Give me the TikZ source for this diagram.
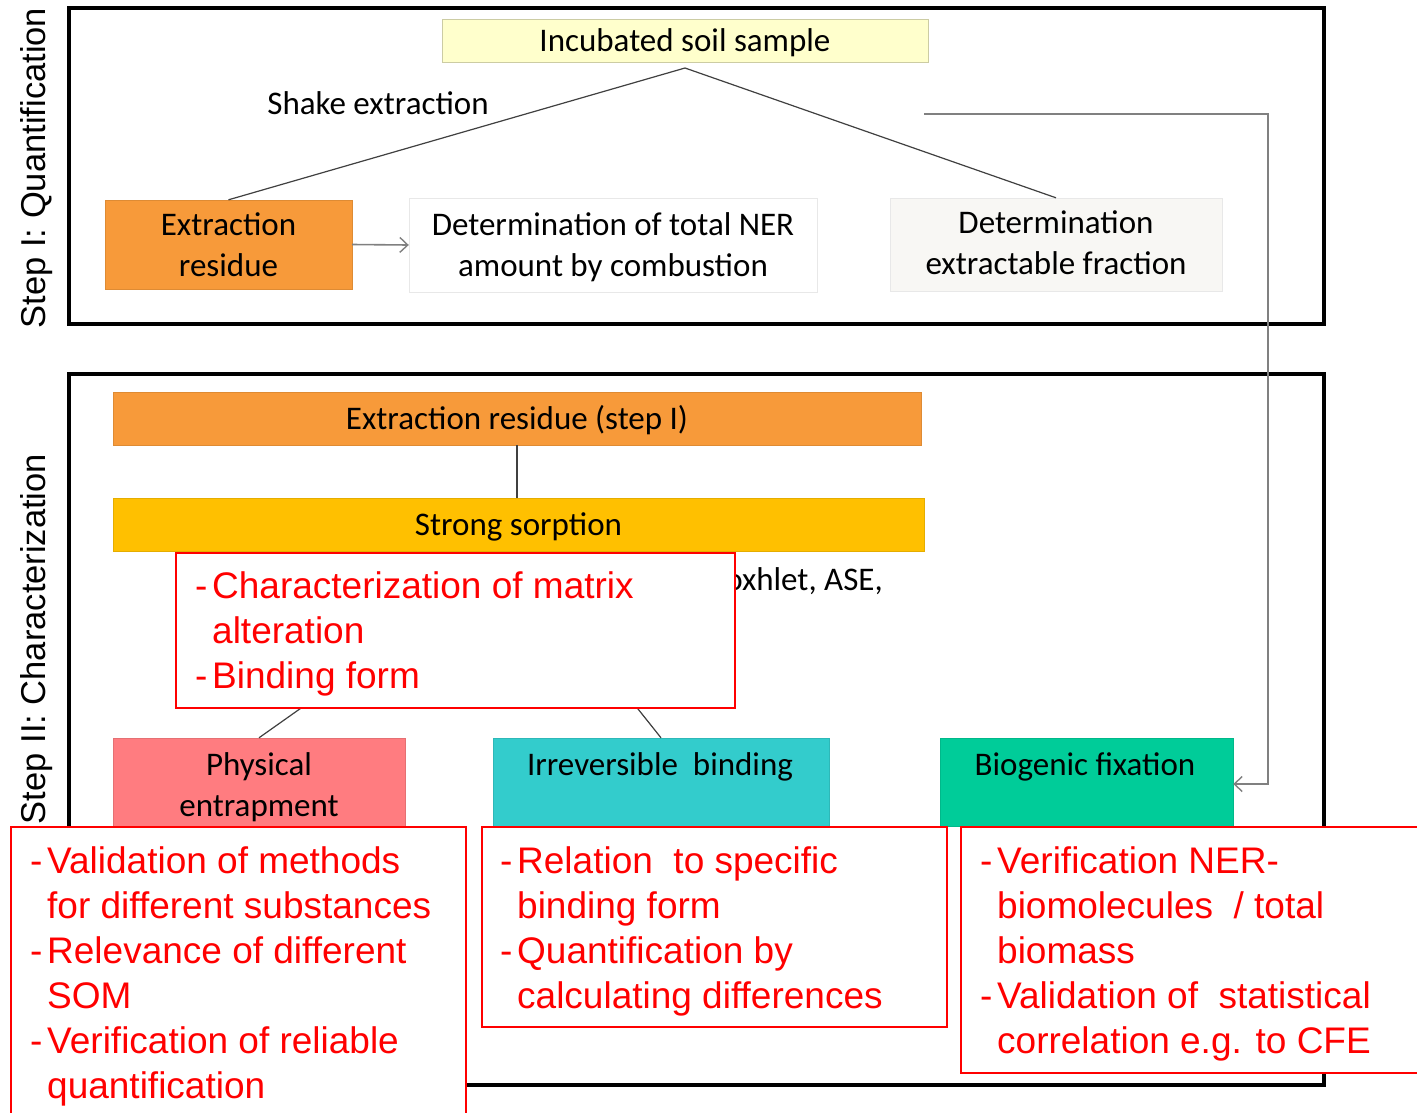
\documentclass[tikz,border=0pt]{standalone}
\usepackage{fontspec}
\usetikzlibrary{arrows.meta}
\newfontfamily\carl{Carlito}
\newfontfamily\arl{Liberation Sans}
\definecolor{incub}{HTML}{FFFFCC}
\definecolor{orng}{HTML}{F79A3A}
\definecolor{gold}{HTML}{FFC000}
\definecolor{salmon}{HTML}{FF7C80}
\definecolor{teal}{HTML}{33CCCC}
\definecolor{mint}{HTML}{00CC99}
\definecolor{offwhite}{HTML}{F8F7F4}
\definecolor{lightedge}{HTML}{E8E8E8}
\definecolor{treeline}{HTML}{404040}
\definecolor{connline}{HTML}{808080}
\newcommand\rdash{\makebox[17pt][l]{-}}
\newcommand\rind{\hspace*{17pt}}
\begin{document}
\begin{tikzpicture}[x=1pt,y=-1pt,
  frame/.style={draw=black, line width=3.5pt},
  lbl/.style={font=\carl\fontsize{33}{41}\selectfont, align=center, inner sep=0pt, text=black},
  boxc/.style={inner sep=0pt, draw=#1!90!black, fill=#1, line width=0.4pt},
  redbox/.style={draw=red, line width=1.5pt, fill=white, inner sep=0pt, anchor=north west},
  redtxt/.style={font=\arl\fontsize{37}{45}\selectfont, text=red, align=left, inner sep=0pt, anchor=north west},
  steplbl/.style={font=\arl\fontsize{34.5}{40}\selectfont, rotate=90, inner sep=0pt},
  tree/.style={draw=treeline, line width=1.2pt},
  conn/.style={draw=connline, line width=1.6pt},
  tip/.style={-{Straight Barb[length=8pt,width=15pt,line width=1.4pt]}}
]
\useasboundingbox (0,0) rectangle (1417,1112);
\clip (0,0) rectangle (1417,1112);
\fill[white] (0,0) rectangle (1417,1112);

% frames
\draw[frame] (69,8) rectangle (1324,324);
\draw[frame] (69,374) rectangle (1324,1085);

% side labels
\node[steplbl] (s1) at (37,168) {Step I: Quantification};
\node[steplbl] (s2) at (37,639) {Step II: Characterization};

% Step I
\node[boxc=incub, draw=incub!80!black, minimum width=486pt, minimum height=43pt] (incub) at (685,40.5) {};
\node[lbl] (incubt) at (685,42.5) {Incubated soil sample};
\coordinate (apex) at (685,68);
\node[lbl] (shake) at (378,103) {Shake extraction};
\node[boxc=orng, minimum width=247pt, minimum height=89pt] (exres) at (228.5,244.5) {};
\node[lbl] (exrest) at (228.5,244.5) {Extraction\\residue};
\node[boxc=white, draw=lightedge, minimum width=408pt, minimum height=94pt] (ner) at (613,245) {};
\node[lbl] (nert) at (613,247) {Determination of total NER\\amount by combustion};
\node[boxc=offwhite, draw=lightedge, minimum width=332pt, minimum height=93pt] (detx) at (1056,244.5) {};
\node[lbl] (detxt) at (1056,242.5) {Determination\\extractable fraction};
\draw[tree] (apex) -- (exres.north);
\draw[tree] (apex) -- (detx.north);
\draw[conn, tip] (exres.east) -- (ner.west);

% Step II
\node[boxc=orng, minimum width=808pt, minimum height=53pt] (ers) at (517,418.5) {};
\node[lbl] (erst) at (517,420.5) {Extraction residue (step I)};
\node[boxc=gold, minimum width=811pt, minimum height=53pt] (sorp) at (518.5,524.5) {};
\node[lbl] (sorpt) at (518.5,526.5) {Strong sorption};
\draw[tree] (ers.south) -- (ers.south |- sorp.north);

\node[lbl, anchor=east] (sox) at (883,581) {oxhlet, ASE,};

\node[boxc=salmon, minimum width=292pt, minimum height=88pt] (phys) at (259,782) {};
\node[lbl] (physt) at (259,787) {Physical\\entrapment};
\node[boxc=teal, minimum width=336pt, minimum height=88pt] (irr) at (661,782) {};
\node[lbl] (irrt) at (660,767) {Irreversible\ \ binding};
\node[boxc=mint, minimum width=293pt, minimum height=88pt] (bio) at (1086.5,782) {};
\node[lbl] (biot) at (1085,767) {Biogenic fixation};

\coordinate (fork) at (516,556);
\draw[tree] (fork) -- (phys.north);
\draw[tree] (fork) -- (irr.north);

\coordinate (cstart) at (924,114);
\draw[conn, tip] (cstart) -- (1268,114) |- ([yshift=-2pt]bio.east);

% red callouts
\node[redbox, minimum width=559pt, minimum height=155pt] (r1) at (175,552) {};
\node[redtxt] (r1t) at (195,571) {\rdash Characterization of matrix\\\rind alteration\\\rdash Binding form};

\node[redbox, minimum width=455pt, minimum height=320pt] (ra) at (10,826) {};
\node[redtxt] (rat) at (30,846) {\rdash Validation of methods\\\rind for different substances\\\rdash Relevance of different\\\rind SOM\\\rdash Verification of reliable\\\rind quantification};

\node[redbox, minimum width=465pt, minimum height=200pt] (rb) at (481,826) {};
\node[redtxt] (rbt) at (500,846) {\rdash Relation\ \ to specific\\\rind binding form\\\rdash Quantification by\\\rind calculating differences};

\node[redbox, minimum width=480pt, minimum height=246pt] (rc) at (960,826) {};
\node[redtxt] (rct) at (980,846) {\rdash Verification NER-\\\rind biomolecules\ \ / total\\\rind biomass\\\rdash Validation of\ \ statistical\\\rind correlation e.g. to CFE};
\end{tikzpicture}
\end{document}
